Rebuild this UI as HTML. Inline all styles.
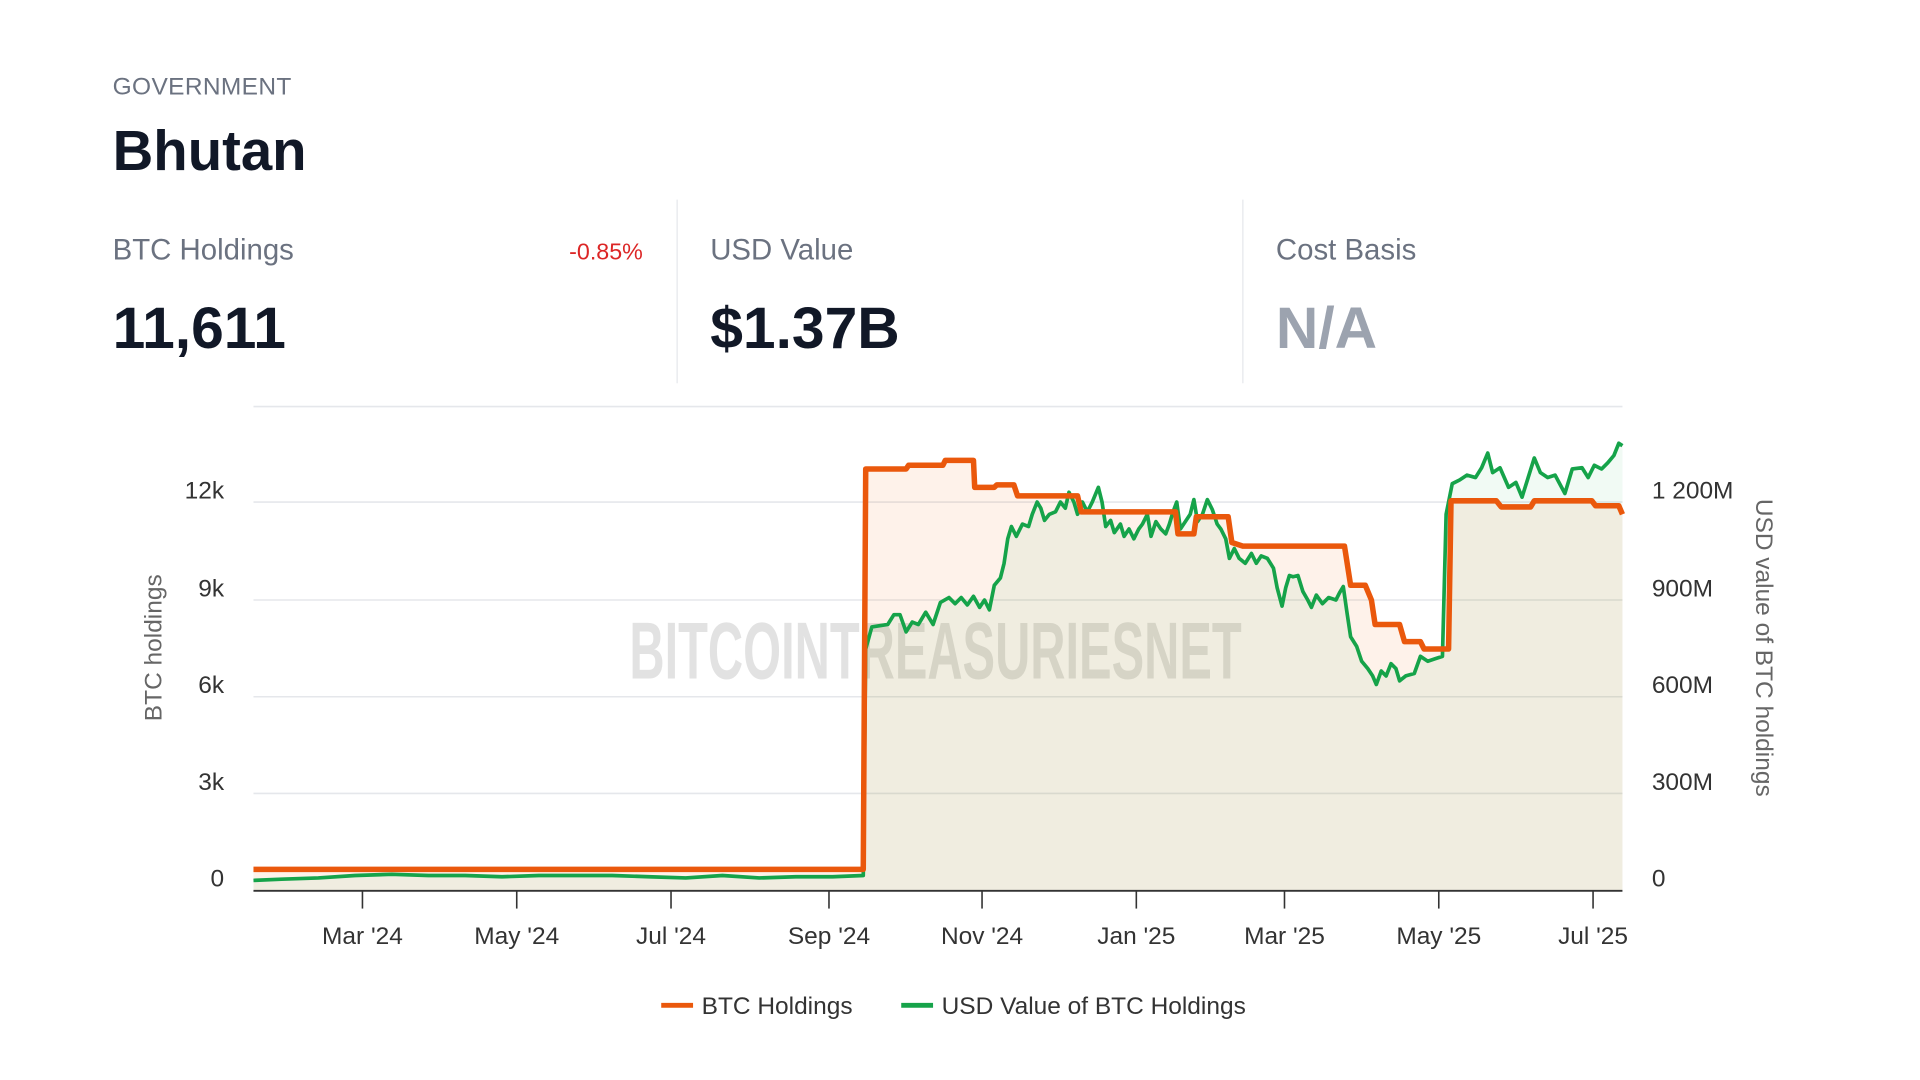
<!DOCTYPE html>
<html><head><meta charset="utf-8"><style>html,body{margin:0;padding:0;background:#fff;}svg{display:block;}</style></head>
<body>
<svg width="1920" height="1080" viewBox="0 0 1568 882" preserveAspectRatio="none" xmlns="http://www.w3.org/2000/svg" font-family="Liberation Sans, Arial, sans-serif">
<rect width="1568" height="882" fill="#fff"/>
<text x="92" y="77" font-size="20" fill="#6b7280" letter-spacing="0.3">GOVERNMENT</text>
<text x="92" y="139" font-size="46" font-weight="bold" fill="#111827">Bhutan</text>
<line x1="553" y1="163" x2="553" y2="313" stroke="#e5e7eb"/>
<line x1="1015" y1="163" x2="1015" y2="313" stroke="#e5e7eb"/>
<text x="92" y="212" font-size="24" fill="#6b7280">BTC Holdings</text>
<text x="525" y="212" font-size="19" fill="#dc2626" text-anchor="end">-0.85%</text>
<text x="92" y="284" font-size="48" font-weight="bold" fill="#111827">11,611</text>
<text x="580" y="212" font-size="24" fill="#6b7280">USD Value</text>
<text x="580" y="284" font-size="48" font-weight="bold" fill="#111827">$1.37B</text>
<text x="1042" y="212" font-size="24" fill="#6b7280">Cost Basis</text>
<text x="1042" y="284" font-size="48" font-weight="bold" fill="#9ca3af">N/A</text>

<g stroke="#e5e7eb" stroke-width="1.3">
<line x1="207" y1="332" x2="1325" y2="332"/>
<line x1="207" y1="410" x2="1325" y2="410"/>
<line x1="207" y1="490" x2="1325" y2="490"/>
<line x1="207" y1="569" x2="1325" y2="569"/>
<line x1="207" y1="648" x2="1325" y2="648"/>
</g>
<text x="764" y="554" font-size="66" font-weight="bold" fill="#e2e2e2" text-anchor="middle" textLength="500" lengthAdjust="spacingAndGlyphs">BITCOINTREASURIESNET</text>

<g font-size="20" fill="#333">
<text x="183" y="407" text-anchor="end">12k</text>
<text x="183" y="487" text-anchor="end">9k</text>
<text x="183" y="566" text-anchor="end">6k</text>
<text x="183" y="645" text-anchor="end">3k</text>
<text x="183" y="724" text-anchor="end">0</text>
<text x="1349" y="407">1 200M</text>
<text x="1349" y="487">900M</text>
<text x="1349" y="566">600M</text>
<text x="1349" y="645">300M</text>
<text x="1349" y="724">0</text>
</g>
<text transform="translate(132,529) rotate(-90)" font-size="20" fill="#666" text-anchor="middle">BTC holdings</text>
<text transform="translate(1434,529) rotate(90)" font-size="20" fill="#666" text-anchor="middle">USD value of BTC holdings</text>

<path id="o" d="M207,710 L705,710 L707,383 L740,383 L742,380 L770,380 L772,376 L795,376 L796,398 L812,398 L814,396 L828,396 L831,405 L880,405 L883,418 L960,418 L962,436 L975,436 L977,422 L1003,422 L1006,443 L1015,446 L1098,446 L1103,478 L1115,478 L1120,490 L1123,510 L1143,510 L1147,524 L1160,524 L1163,530 L1183,530 L1185,409 L1222,409 L1226,414 L1250,414 L1253,409 L1300,409 L1303,413 L1322,413 L1325,420" fill="none"/>
<path d="M207,710 L705,710 L707,383 L740,383 L742,380 L770,380 L772,376 L795,376 L796,398 L812,398 L814,396 L828,396 L831,405 L880,405 L883,418 L960,418 L962,436 L975,436 L977,422 L1003,422 L1006,443 L1015,446 L1098,446 L1103,478 L1115,478 L1120,490 L1123,510 L1143,510 L1147,524 L1160,524 L1163,530 L1183,530 L1185,409 L1222,409 L1226,414 L1250,414 L1253,409 L1300,409 L1303,413 L1322,413 L1325,420 L1325,727 L207,727Z" fill="#f97316" fill-opacity="0.09"/>
<path d="M207,719 L230,718 L260,717 L290,715 L320,714 L350,715 L380,715 L410,716 L440,715 L470,715 L500,715 L530,716 L560,717 L590,715 L620,717 L650,716 L680,716 L705,715 L707,530 L712,512 L725,510 L730,502 L735,502 L740,516 L745,508 L750,510 L756,500 L762,510 L768,492 L775,488 L780,493 L785,488 L790,494 L795,487 L800,496 L804,490 L808,498 L812,478 L817,472 L820,460 L823,440 L826,430 L830,438 L835,428 L840,430 L843,420 L847,410 L850,415 L853,425 L857,420 L862,418 L866,410 L870,415 L873,402 L877,410 L880,420 L884,410 L888,418 L892,410 L897,398 L900,410 L903,430 L907,425 L910,435 L915,428 L918,438 L922,432 L926,440 L930,432 L933,428 L937,420 L940,438 L944,426 L948,432 L952,436 L955,428 L958,418 L961,410 L964,432 L968,426 L972,420 L975,408 L978,426 L982,420 L986,408 L990,416 L994,428 L997,432 L1001,440 L1004,456 L1008,448 L1012,456 L1017,460 L1022,452 L1026,460 L1030,454 L1035,456 L1040,464 L1043,480 L1047,495 L1050,480 L1053,470 L1056,471 L1060,470 L1064,483 L1068,490 L1071,496 L1075,486 L1080,493 L1085,488 L1091,490 L1094,484 L1097,479 L1100,500 L1103,520 L1108,528 L1112,540 L1117,546 L1121,552 L1124,559 L1128,548 L1132,552 L1136,542 L1140,546 L1143,556 L1148,552 L1155,550 L1160,536 L1166,540 L1172,538 L1178,536 L1181,420 L1186,395 L1192,392 L1198,388 L1205,390 L1210,382 L1215,370 L1219,386 L1225,382 L1232,398 L1238,394 L1243,406 L1248,390 L1253,374 L1258,386 L1264,390 L1270,388 L1278,403 L1284,383 L1292,382 L1297,390 L1302,380 L1308,383 L1313,378 L1318,372 L1322,362 L1325,364" fill="none" stroke="#16a34a" stroke-width="3" stroke-linejoin="round"/>
<path d="M207,719 L230,718 L260,717 L290,715 L320,714 L350,715 L380,715 L410,716 L440,715 L470,715 L500,715 L530,716 L560,717 L590,715 L620,717 L650,716 L680,716 L705,715 L707,530 L712,512 L725,510 L730,502 L735,502 L740,516 L745,508 L750,510 L756,500 L762,510 L768,492 L775,488 L780,493 L785,488 L790,494 L795,487 L800,496 L804,490 L808,498 L812,478 L817,472 L820,460 L823,440 L826,430 L830,438 L835,428 L840,430 L843,420 L847,410 L850,415 L853,425 L857,420 L862,418 L866,410 L870,415 L873,402 L877,410 L880,420 L884,410 L888,418 L892,410 L897,398 L900,410 L903,430 L907,425 L910,435 L915,428 L918,438 L922,432 L926,440 L930,432 L933,428 L937,420 L940,438 L944,426 L948,432 L952,436 L955,428 L958,418 L961,410 L964,432 L968,426 L972,420 L975,408 L978,426 L982,420 L986,408 L990,416 L994,428 L997,432 L1001,440 L1004,456 L1008,448 L1012,456 L1017,460 L1022,452 L1026,460 L1030,454 L1035,456 L1040,464 L1043,480 L1047,495 L1050,480 L1053,470 L1056,471 L1060,470 L1064,483 L1068,490 L1071,496 L1075,486 L1080,493 L1085,488 L1091,490 L1094,484 L1097,479 L1100,500 L1103,520 L1108,528 L1112,540 L1117,546 L1121,552 L1124,559 L1128,548 L1132,552 L1136,542 L1140,546 L1143,556 L1148,552 L1155,550 L1160,536 L1166,540 L1172,538 L1178,536 L1181,420 L1186,395 L1192,392 L1198,388 L1205,390 L1210,382 L1215,370 L1219,386 L1225,382 L1232,398 L1238,394 L1243,406 L1248,390 L1253,374 L1258,386 L1264,390 L1270,388 L1278,403 L1284,383 L1292,382 L1297,390 L1302,380 L1308,383 L1313,378 L1318,372 L1322,362 L1325,364 L1325,727 L207,727Z" fill="#16a34a" fill-opacity="0.06"/>
<use href="#o" stroke="#ea580c" stroke-width="4.5" stroke-linejoin="round"/>

<line x1="207" y1="727.5" x2="1325" y2="727.5" stroke="#333" stroke-width="1.5"/>
<g stroke="#333" stroke-width="1.3">
<line x1="296" y1="727" x2="296" y2="742"/><line x1="422" y1="727" x2="422" y2="742"/><line x1="548" y1="727" x2="548" y2="742"/><line x1="677" y1="727" x2="677" y2="742"/><line x1="802" y1="727" x2="802" y2="742"/><line x1="928" y1="727" x2="928" y2="742"/><line x1="1049" y1="727" x2="1049" y2="742"/><line x1="1175" y1="727" x2="1175" y2="742"/><line x1="1301" y1="727" x2="1301" y2="742"/>
</g>
<g font-size="20" fill="#333" text-anchor="middle">
<text x="296" y="771">Mar '24</text><text x="422" y="771">May '24</text><text x="548" y="771">Jul '24</text><text x="677" y="771">Sep '24</text><text x="802" y="771">Nov '24</text><text x="928" y="771">Jan '25</text><text x="1049" y="771">Mar '25</text><text x="1175" y="771">May '25</text><text x="1301" y="771">Jul '25</text>
</g>
<line x1="540" y1="821" x2="566" y2="821" stroke="#ea580c" stroke-width="4"/>
<text x="573" y="828" font-size="20" fill="#333">BTC Holdings</text>
<line x1="736" y1="821" x2="762" y2="821" stroke="#16a34a" stroke-width="4"/>
<text x="769" y="828" font-size="20" fill="#333">USD Value of BTC Holdings</text>
</svg>
</body></html>
